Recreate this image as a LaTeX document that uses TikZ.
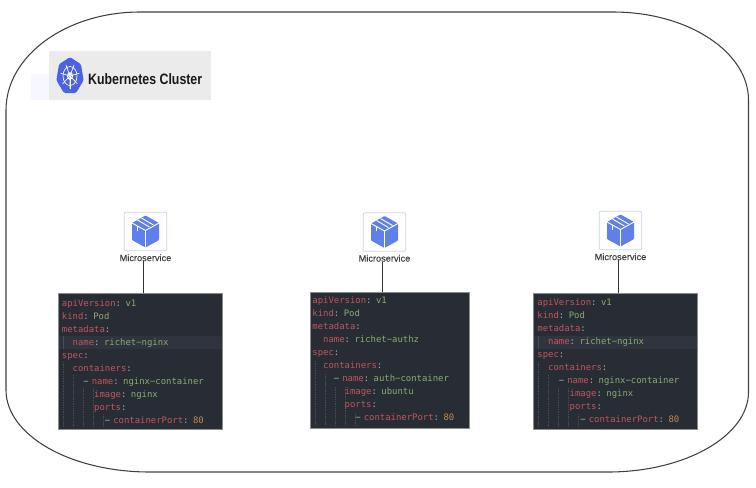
\documentclass[tikz,border=0pt]{standalone}
\usepackage{fontspec}
\setmainfont{Liberation Sans}
\setmonofont{DejaVu Sans Mono}
\newfontfamily\capfont[FakeBold=0.4]{Liberation Sans}
\usepackage{xcolor}
\usetikzlibrary{positioning, shapes.geometric}
\definecolor{codebg}{HTML}{282C34}
\definecolor{codeband}{HTML}{2F343E}
\definecolor{codeguide}{HTML}{474C55}
\definecolor{keyred}{HTML}{C25561}
\definecolor{valgreen}{HTML}{86AD72}
\definecolor{numorange}{HTML}{BE8A55}
\definecolor{punctgray}{HTML}{A9AEB6}
\definecolor{cubeblue}{HTML}{5F80EA}
\definecolor{k8sblue}{HTML}{4A63E0}
\newcommand{\ykey}[1]{\textcolor{keyred}{#1}\textcolor{punctgray}{:}}
\newcommand{\yval}[1]{\textcolor{valgreen}{#1}}
\newcommand{\yind}[1]{\hspace*{#1\dimexpr 0.602em\relax}}
\newcommand{\podspec}[3]{%
    \ykey{apiVersion} \yval{v1}\\
    \ykey{kind} \yval{Pod}\\
    \ykey{metadata}\\
    \yind{2}\ykey{name} \yval{#1}\\
    \ykey{spec}\\
    \yind{2}\ykey{containers}\\
    \yind{4}\textcolor{punctgray}{−} \ykey{name} \yval{#2}\\
    \yind{6}\ykey{image} \yval{#3}\\
    \yind{6}\ykey{ports}\\
    \yind{8}\textcolor{punctgray}{−} \ykey{containerPort} \textcolor{numorange}{80}}
\tikzset{
    cluster/.style={draw=black!75, line width=0.8pt},
    logobox/.style={fill=black!8, draw=none, minimum width=121.5pt, minimum height=36.75pt},
    logotext/.style={font=\bfseries\fontsize{11.3}{13}\selectfont, text=black!90, inner sep=0pt, xscale=0.82, transform shape},
    k8swheel/.style={regular polygon, regular polygon sides=7, fill=k8sblue, rounded corners=1pt, minimum size=21pt, inner sep=0pt, yscale=1.35, transform shape},
    iconbox/.style={draw=cubeblue!35, fill=white, line width=0.6pt, rounded corners=1.5pt, minimum width=32pt, minimum height=29pt},
    caption/.style={font=\capfont\fontsize{6.9}{8}\selectfont, text=black!75, inner sep=0pt},
    codepanel/.style={
        draw=black!45, fill=codebg, line width=0.4pt, anchor=north west,
        minimum width=#1, minimum height=102pt, inner sep=0pt,
        text width=#1-3.2pt, align=left,
        font=\ttfamily\fontsize{6.7}{9.75}\selectfont
    },
    link/.style={draw=black!80, line width=0.8pt}
}
\newcommand{\cubeglyph}[1]{%
    \begin{scope}[shift={(#1)}]
        \fill[cubeblue, rounded corners=0.6pt] (0,-16) -- (13.5,-8.5) -- (13.5,8.5) -- (0,16) -- (-13.5,8.5) -- (-13.5,-8.5) -- cycle;
        \draw[white, line width=0.7pt] (-13.5,-8.5) -- (0,-1) -- (13.5,-8.5) (0,-1) -- (0,16);
        \draw[white, line width=0.7pt] (-8,-11.5) -- (4,-4.5) (-4,-13.5) -- (8,-6.5);
        \draw[white, line width=0.7pt] (-8,-6) -- (-8,-1);
    \end{scope}}
\newcommand{\codeguides}[1]{%
    \begin{scope}[shift={(#1)}]
        \foreach \gx/\gy in {5/69,15/82,25/95,35/95,45/121}
            \draw[codeguide, line width=0.3pt, densely dotted] (\gx,\gy) -- (\gx,134);
    \end{scope}}

\begin{document}
\begin{tikzpicture}[x=0.75pt, y=-0.75pt]
\useasboundingbox (0,0) rectangle (756,487);

% Cluster outline
\draw[cluster] (140,12) -- (613,12) .. controls (688,12) and (748.5,52) .. (748.5,100)
    -- (748.5,392) .. controls (748.5,436) and (685,472) .. (608,472)
    -- (150,472) .. controls (70,472) and (6,435) .. (6,390)
    -- (6,110) .. controls (6,56) and (66,12) .. (140,12);

% Logo
\fill[blue!3] (31,74) rectangle (49,100);
\node[logobox, anchor=north west] (logo) at (49,51) {};
\node[k8swheel] (wheel) at (70,76) {};
\draw[white, line width=0.5pt] (wheel.center) ellipse[x radius=7, y radius=9.5];
\draw[white, line width=0.9pt] (wheel.center) ellipse[x radius=2.4, y radius=3.2];
\foreach \a in {0,51.4,...,360}
    \draw[white, line width=0.5pt] (wheel.center) -- ++({9.5*cos(\a+90)},{12.5*sin(\a+90)});
\node[logotext, anchor=west] (title) at (88,79) {Kubernetes Cluster};

% Icons
\node[iconbox] (icon1) at (145.5,231.5) {};
\node[iconbox] (icon2) at (384.5,232) {};
\node[iconbox] (icon3) at (620.5,230.5) {};
\cubeglyph{icon1.center}
\cubeglyph{icon2.center}
\cubeglyph{icon3.center}

% Labels
\node[caption, below=2.2pt of icon1] (label1) {Microservice};
\node[caption, below=2.2pt of icon2] (label2) {Microservice};
\node[caption, below=2.2pt of icon3] (label3) {Microservice};

% Highlighted line in the first and last panel
\node[codepanel=123pt] (pod1) at (58,293) {};
\node[codepanel=119.5pt] (pod2) at (310,292) {};
\node[codepanel=123pt] (pod3) at (533,293) {};
\fill[codeband] (58.5,336) rectangle (221.5,349);
\fill[codeband] (533.5,336) rectangle (697,349);
\draw[codeguide, line width=0.4pt] (63,336) -- (63,349);
\draw[codeguide, line width=0.4pt] (538,336) -- (538,349);
\codeguides{58,293}
\codeguides{310,292}
\codeguides{533,293}

% Code
\node[codepanel=123pt, draw=none, fill=none] (spec1) at (59.5,293.5) {\podspec{richet−nginx}{nginx−container}{nginx}};
\node[codepanel=119.5pt, draw=none, fill=none] (spec2) at (310,290.5) {\podspec{richet−authz}{auth−container}{ubuntu}};
\node[codepanel=123pt, draw=none, fill=none] (spec3) at (535,292) {\podspec{richet−nginx}{nginx−container}{nginx}};

% Connectors
\draw[link] ([xshift=-1.3pt]label1.south) -- ([xshift=-1.3pt]label1.south |- pod1.north);
\draw[link] ([xshift=-1.3pt]label2.south) -- ([xshift=-1.3pt]label2.south |- pod2.north);
\draw[link] ([xshift=-1.3pt]label3.south) -- ([xshift=-1.3pt]label3.south |- pod3.north);

\end{tikzpicture}
\end{document}
